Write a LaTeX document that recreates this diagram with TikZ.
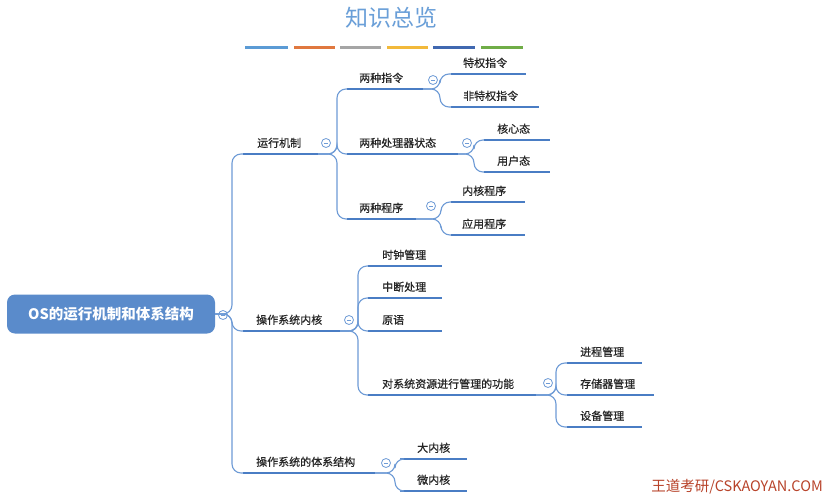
\documentclass[tikz,border=0pt]{standalone}
\usepackage{fontspec}
\setmainfont{Noto Sans CJK SC}
\newfontfamily\mmfont{Noto Sans CJK SC}[FakeBold=0.6]
\begin{document}
\begin{tikzpicture}[x=1pt,y=-1pt,
  ul/.style={line width=2.4pt,draw=ulc},
  conn/.style={line width=1.1pt,draw=lnc,rounded corners=9pt},
  lbl/.style={inner sep=0pt,font=\mmfont\fontsize{11}{12}\selectfont,text=black!85},
  hubc/.style={circle,draw=lnc,line width=0.8pt,minimum size=9pt,inner sep=0pt,fill=white}]
\definecolor{ulc}{HTML}{4A7DC4}
\definecolor{lnc}{HTML}{6E9BD6}
\definecolor{rootc}{HTML}{5A8BCB}
\definecolor{titc}{HTML}{6A9FD8}
\useasboundingbox (0,0) rectangle (831,501);
\fill[white] (0,0) rectangle (831,501);
\newcommand\mmleaf[6]{%
  \coordinate (#1-L) at (#2,#4); \coordinate (#1-R) at (#3,#4);
  \draw[ul] (#1-L) -- (#1-R);
  \node[lbl,anchor=base west] (#1) at (#5,#4-7) {#6};}
% title
\node[font=\fontsize{23}{26}\selectfont,text=titc] (title) at (391,18) {知识总览};
\foreach \a/\b/\c in {245/288/5B9BD5,294/335/E0783F,340/381/A5A5A5,387/428/F2B93B,433/475/4068B0,481/523/70AD47}
  {\definecolor{barc}{HTML}{\c}\draw[line width=3pt,barc] (\a,47) -- (\b,47);}
% root
\node[fill=rootc,rounded corners=8pt,minimum width=208pt,minimum height=39pt,inner sep=0pt,
  text=white,font=\fontsize{14.5}{16}\selectfont\bfseries] (root) at (111,314) {OS的运行机制和体系结构};
\coordinate (root-R) at (root.east);
\coordinate (root-T) at (232,314);
\node[hubc] (root-c) at (223,315) {};
\draw[lnc,line width=0.8pt] (220.8,315) -- (225.2,315);
% level 1
\mmleaf{yx}{243}{318}{154}{257}{运行机制}
\mmleaf{nh}{243}{340}{331}{256}{操作系统内核}
\mmleaf{tx}{243}{375}{473}{256}{操作系统的体系结构}
\foreach \c in {yx,nh,tx} \draw[conn] (root-R) -- (root-T) |- (\c-L);
% 运行机制 children
\mmleaf{zl}{347}{423}{89}{359}{两种指令}
\mmleaf{zt}{347}{458}{154}{359}{两种处理器状态}
\mmleaf{cx}{347}{416}{219}{359}{两种程序}
\coordinate (yx-T) at (337,154);
\foreach \c in {zl,zt,cx} \draw[conn] (yx-R) -- (yx-T) |- (\c-L);
% 两种指令
\mmleaf{tq}{451}{526}{74}{463}{特权指令}
\mmleaf{ftq}{451}{539}{107}{463}{非特权指令}
\coordinate (zl-T) at (440,89);
\foreach \c in {tq,ftq} \draw[conn] (zl-R) -- (zl-T) |- (\c-L);
% 两种处理器状态
\mmleaf{hx}{484}{550}{140}{497}{核心态}
\mmleaf{yh}{484}{550}{172}{497}{用户态}
\coordinate (zt-T) at (474,154);
\foreach \c in {hx,yh} \draw[conn] (zt-R) -- (zt-T) |- (\c-L);
% 两种程序
\mmleaf{nc}{451}{525}{202}{462}{内核程序}
\mmleaf{yc}{451}{525}{235}{462}{应用程序}
\coordinate (cx-T) at (441,219);
\foreach \c in {nc,yc} \draw[conn] (cx-R) -- (cx-T) |- (\c-L);
% 操作系统内核 children
\mmleaf{sz}{368}{442}{266}{382}{时钟管理}
\mmleaf{zd}{368}{442}{298}{382}{中断处理}
\mmleaf{yy}{368}{442}{331}{382}{原语}
\mmleaf{gl}{368}{536}{395}{382}{对系统资源进行管理的功能}
\coordinate (nh-T) at (358,331);
\foreach \c in {sz,zd,yy,gl} \draw[conn] (nh-R) -- (nh-T) |- (\c-L);
% 管理功能 children
\mmleaf{jc}{567}{642}{363}{580}{进程管理}
\mmleaf{cc}{567}{654}{395}{580}{存储器管理}
\mmleaf{sb}{567}{642}{427}{580}{设备管理}
\coordinate (gl-T) at (556,395);
\foreach \c in {jc,cc,sb} \draw[conn] (gl-R) -- (gl-T) |- (\c-L);
% 体系结构 children
\mmleaf{dn}{400}{467}{459}{417}{大内核}
\mmleaf{wn}{400}{467}{491}{417}{微内核}
\coordinate (tx-T) at (395,473);
\foreach \c in {dn,wn} \draw[conn] (tx-R) -- (tx-T) |- (\c-L);
% hubs
\foreach \n/\x/\y in {yx/326/143,zl/433/80,zt/467/143,cx/431/206,nh/349/320,gl/548/383,tx/386/463}{
  \node[hubc] (\n-c) at (\x,\y) {};
  \draw[lnc,line width=0.8pt] (\x-2.2,\y) -- (\x+2.2,\y);}
% watermark
\definecolor{wmc}{HTML}{B8432A}
\node[text=wmc,font=\fontsize{14.5}{16}\selectfont,anchor=east,inner sep=0pt] (wm) at (823,487) {王道考研/CSKAOYAN.COM};
\end{tikzpicture}
\end{document}
